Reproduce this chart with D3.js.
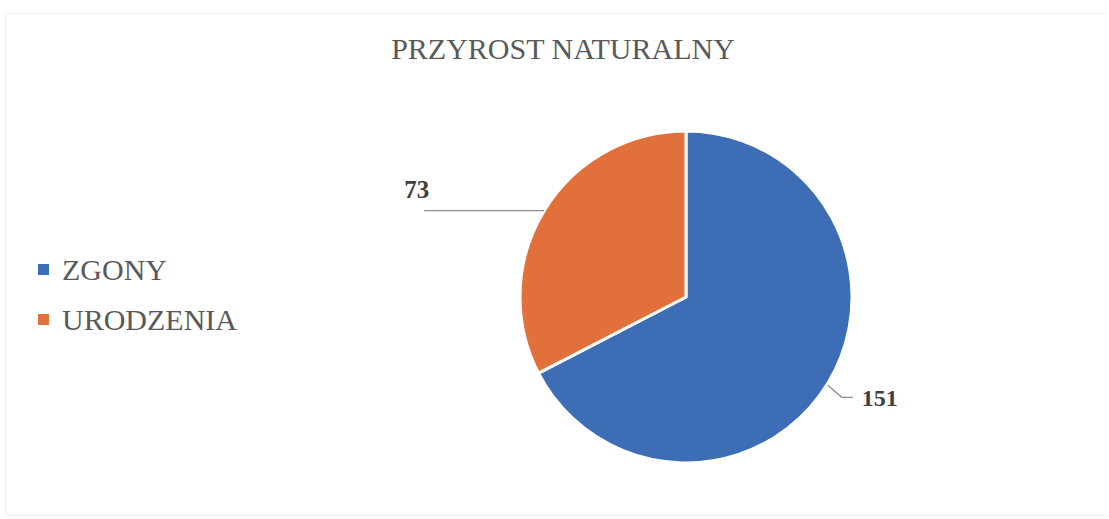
<!DOCTYPE html>
<html>
<head>
<meta charset="utf-8">
<script src="https://cdn.jsdelivr.net/npm/d3@7"></script>
<style>
  body { margin: 0; background: #fff; }
  text { font-family: "Liberation Serif", "Times New Roman", serif; }
</style>
</head>
<body>
<div id="chart"></div>
<script>
// data
const categories = ["ZGONY", "URODZENIA"]
const values = [151, 73]
const colors = ["#3d6db5", "#e2703a"]
const title = "PRZYROST NATURALNY"

const dimensions = { width: 1109, height: 519 }
const cx = 686, cy = 297, radius = 166

const wrapper = d3.select("#chart")
    .append("svg")
    .attr("width", dimensions.width)
    .attr("height", dimensions.height)

// faint chart frame
wrapper.append("rect")
    .attr("x", 5.5).attr("y", 13.5)
    .attr("width", 1110).attr("height", 502)
    .attr("fill", "none")
    .attr("stroke", "#e2e2e2")
    .attr("stroke-dasharray", "2,2")

wrapper.append("text")
    .attr("x", 563).attr("y", 59)
    .attr("text-anchor", "middle")
    .attr("fill", "#595959")
    .style("font-size", "30px")
    .text(title)

const dataset = categories.map((c, i) => ({ name: c, value: values[i], color: colors[i] }))

const pie = d3.pie().sort(null).value(d => d.value)
const arcs = pie(dataset)
const arc = d3.arc().innerRadius(0).outerRadius(radius)

const bounds = wrapper.append("g")
    .attr("transform", `translate(${cx},${cy})`)

bounds.selectAll("path")
    .data(arcs)
    .join("path")
    .attr("d", arc)
    .attr("fill", d => d.data.color)
    .attr("stroke", "#fff")
    .attr("stroke-width", 3)
    .attr("stroke-linejoin", "round")

// data labels with leader lines
arcs.forEach(d => {
    const mid = (d.startAngle + d.endAngle) / 2
    const px = radius * Math.sin(mid)
    const py = -radius * Math.cos(mid)
    const left = px < 0
    let points
    if (left) {
        points = [[px, py], [px - 120, py]]
        bounds.append("text")
            .attr("x", px - 140).attr("y", py - 13)
            .attr("fill", "#404040")
            .style("font-size", "25px")
            .style("font-weight", "bold")
            .text(d.data.value)
    } else {
        points = [[px, py + 2], [px + 14, py + 14], [px + 25, py + 14]]
        bounds.append("text")
            .attr("x", px + 34).attr("y", py + 14)
            .attr("dy", "0.35em")
            .attr("fill", "#404040")
            .style("font-size", "24px")
            .style("font-weight", "bold")
            .text(d.data.value)
    }
    bounds.append("path")
        .attr("d", d3.line()(points))
        .attr("fill", "none")
        .attr("stroke", "#8c8c8c")
        .attr("stroke-width", 1.3)
})

// legend
const legend = wrapper.append("g")
    .attr("transform", "translate(38,264)")

dataset.forEach((d, i) => {
    legend.append("rect")
        .attr("x", 0).attr("y", 50 * i)
        .attr("width", 11).attr("height", 11)
        .attr("fill", d.color)
    legend.append("text")
        .attr("x", 24).attr("y", 50 * i + 16)
        .attr("fill", "#595959")
        .style("font-size", "30px")
        .text(d.name)
})
</script>
</body>
</html>
